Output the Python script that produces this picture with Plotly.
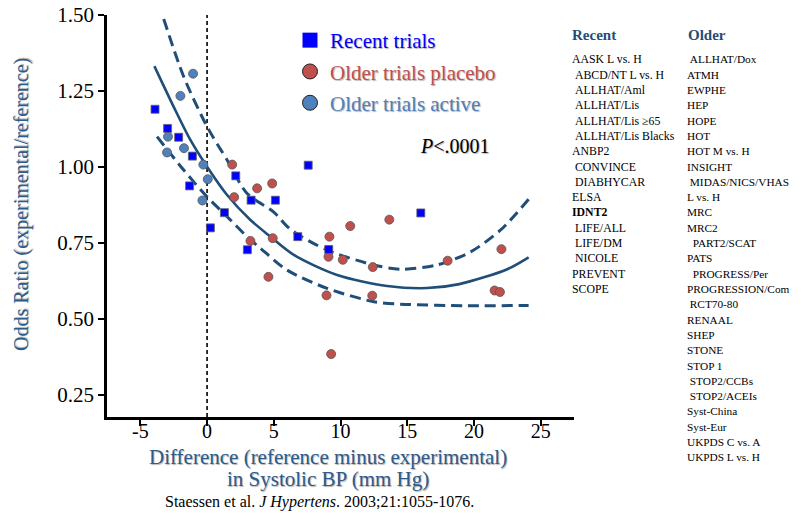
import plotly.graph_objects as go

# ---------------- data ----------------
recent_x = [-3.90, -2.96, -2.13, -1.10, -1.31, 0.25, 2.15, 1.30, 3.30, 5.12, 6.80, 3.02, 7.58, 9.12, 16.02]
recent_y = [1.190, 1.127, 1.098, 1.036, 0.938, 0.800, 0.971, 0.850, 0.891, 0.891, 0.771, 0.728, 1.006, 0.729, 0.849]

placebo_x = [1.88, 3.75, 4.88, 2.03, 3.25, 4.92, 4.60, 9.17, 10.73, 13.66, 9.10, 10.17, 12.42, 8.95, 12.38, 9.30, 18.03, 21.55, 21.95, 22.06]
placebo_y = [1.008, 0.930, 0.946, 0.901, 0.757, 0.766, 0.639, 0.771, 0.806, 0.827, 0.705, 0.695, 0.671, 0.578, 0.577, 0.385, 0.692, 0.594, 0.589, 0.730]

active_x = [-1.05, -2.00, -2.93, -3.00, -1.73, -0.28, 0.05, -0.35]
active_y = [1.307, 1.234, 1.100, 1.048, 1.062, 1.008, 0.960, 0.890]

fit_x = [-3.95, -2.5, -1.25, 0.0, 1.5, 3.25, 4.75, 6.5, 9.75, 13.5, 16.5, 18.9, 22.5, 24.1]
fit_y = [1.332, 1.198, 1.089, 1.001, 0.908, 0.826, 0.771, 0.711, 0.645, 0.609, 0.602, 0.615, 0.664, 0.703]

upper_x = [-3.25, -1.75, 0.0, 1.5, 3.0, 5.0, 6.25, 9.0, 12.5, 14.5, 17.25, 19.75, 22.0, 24.1]
upper_y = [1.487, 1.297, 1.133, 1.023, 0.913, 0.852, 0.795, 0.727, 0.678, 0.664, 0.678, 0.721, 0.793, 0.894]

lower_x = [-3.75, -1.75, 0.0, 1.5, 3.0, 4.0, 6.0, 9.0, 12.5, 14.5, 19.5, 24.1]
lower_y = [1.100, 0.990, 0.902, 0.837, 0.771, 0.733, 0.661, 0.601, 0.557, 0.549, 0.544, 0.545]

x_ticks = [-5, 0, 5, 10, 15, 20, 25]
x_tick_text = ["-5", "0", "5", "10", "15", "20", "25"]
y_ticks = [0.25, 0.50, 0.75, 1.00, 1.25, 1.50]
y_tick_text = ["0.25", "0.50", "0.75", "1.00", "1.25", "1.50"]

legend_names = ["Recent trials", "Older trials placebo", "Older trials active"]

recent_names = ["AASK L vs. H", "\u00a0ABCD/NT L vs. H", "\u00a0ALLHAT/Aml", "\u00a0ALLHAT/Lis",
                "\u00a0ALLHAT/Lis \u226565", "\u00a0ALLHAT/Lis Blacks", "ANBP2", "\u00a0CONVINCE",
                "\u00a0DIABHYCAR", "ELSA", "<b>IDNT2</b>", "\u00a0LIFE/ALL", "\u00a0LIFE/DM",
                "\u00a0NICOLE", "PREVENT", "SCOPE"]
older_names = ["\u00a0ALLHAT/Dox", "ATMH", "EWPHE", "HEP", "HOPE", "HOT", "HOT M vs. H",
               "INSIGHT", "\u00a0MIDAS/NICS/VHAS", "L vs. H", "MRC", "MRC2",
               "\u00a0\u00a0PART2/SCAT", "PATS", "\u00a0\u00a0PROGRESS/Per", "PROGRESSION/Com",
               "\u00a0RCT70-80", "RENAAL", "SHEP", "STONE", "STOP 1",
               "\u00a0STOP2/CCBs", "\u00a0STOP2/ACEIs", "Syst-China", "Syst-Eur",
               "UKPDS C vs. A", "UKPDS L vs. H"]

# ---------------- styles ----------------
SERIF = "Liberation Serif, Times New Roman, serif"
LINE_COL = "#1f4e79"
TITLE_COL = "#2d5b8c"
BLUE = "#0000ff"
RED = "#c0504d"
STEEL = "#4f81bd"
SHADOW = "1px 1px 1px rgba(0,0,0,0.30)"

OFF = 0                      # page body margin removed by the post script
W, H = 801, 531
PLOT_L, PLOT_R, PLOT_T, PLOT_B = 107, 574, 15, 417   # wanted on-screen plot box
PW, PH = PLOT_R - PLOT_L, PLOT_B - PLOT_T
ML, MT = PLOT_L - OFF, PLOT_T - OFF
MR, MB = W - ML - PW, H - MT - PH


def px(xs):
    return (xs - PLOT_L) / PW


def py(ys):
    return (PLOT_B - ys) / PH


fig = go.Figure()

# fitted curve and confidence band
fig.add_trace(go.Scatter(x=upper_x, y=upper_y, mode="lines", showlegend=False,
                         line=dict(color=LINE_COL, width=3, dash="11px,6px", shape="spline", smoothing=0.8)))
fig.add_trace(go.Scatter(x=lower_x, y=lower_y, mode="lines", showlegend=False,
                         line=dict(color=LINE_COL, width=3, dash="11px,6px", shape="spline", smoothing=0.8)))
fig.add_trace(go.Scatter(x=fit_x, y=fit_y, mode="lines", showlegend=False,
                         line=dict(color=LINE_COL, width=2.6, shape="spline", smoothing=0.8)))

# data points
fig.add_trace(go.Scatter(x=active_x, y=active_y, mode="markers", showlegend=False,
                         marker=dict(symbol="circle", size=9, color=STEEL, line=dict(color="#555", width=0.8))))
fig.add_trace(go.Scatter(x=placebo_x, y=placebo_y, mode="markers", showlegend=False,
                         marker=dict(symbol="circle", size=9, color=RED, line=dict(color="#555", width=0.8))))
fig.add_trace(go.Scatter(x=recent_x, y=recent_y, mode="markers", showlegend=False,
                         marker=dict(symbol="square", size=8, color=BLUE, line=dict(color="#666", width=0.8))))

# legend entries (legend-only traces with larger symbols)
leg_cols = [BLUE, RED, STEEL]
leg_syms = ["square", "circle", "circle"]
for name, col, sym in zip(legend_names, leg_cols, leg_syms):
    fig.add_trace(go.Scatter(x=[None], y=[None], mode="markers", legendgroup=name,
                             name=f'<span style="color:{col}">{name}</span>',
                             marker=dict(symbol=sym, size=15, color=col,
                                         line=dict(color="#222", width=1 if sym == "circle" else 0))))

# vertical reference line at x = 0
fig.add_shape(type="line", xref="x", yref="paper", x0=0, x1=0, y0=0, y1=1,
              line=dict(color="black", width=1.6, dash="4px,3px"), layer="below")

ann = []
# axis titles
ann.append(dict(text="Odds Ratio (experimental/reference)", textangle=-90, x=px(22), y=py(205),
                xref="paper", yref="paper", showarrow=False, xanchor="center", yanchor="middle",
                font=dict(family=SERIF, size=20, color=TITLE_COL, shadow=SHADOW)))
ann.append(dict(text="Difference (reference minus experimental)", x=px(328), y=py(457),
                xref="paper", yref="paper", showarrow=False, xanchor="center", yanchor="middle",
                font=dict(family=SERIF, size=21, color=TITLE_COL, shadow=SHADOW)))
ann.append(dict(text="in Systolic BP (mm Hg)", x=px(328), y=py(479),
                xref="paper", yref="paper", showarrow=False, xanchor="center", yanchor="middle",
                font=dict(family=SERIF, size=21, color=TITLE_COL, shadow=SHADOW)))
ann.append(dict(text="Staessen et al. <i>J Hypertens</i>. 2003;21:1055-1076.", x=px(319), y=py(502),
                xref="paper", yref="paper", showarrow=False, xanchor="center", yanchor="middle",
                font=dict(family=SERIF, size=16, color="black")))
ann.append(dict(text="<i>P</i>&lt;.0001", x=px(455), y=py(146),
                xref="paper", yref="paper", showarrow=False, xanchor="center", yanchor="middle",
                font=dict(family=SERIF, size=20, color="black", shadow=SHADOW)))

# right-hand trial lists
ann.append(dict(text="<b>Recent</b>", x=px(570), y=py(35), xref="paper", yref="paper",
                showarrow=False, xanchor="left", yanchor="middle",
                font=dict(family=SERIF, size=15, color=LINE_COL)))
ann.append(dict(text="<b>Older</b>", x=px(686), y=py(35), xref="paper", yref="paper",
                showarrow=False, xanchor="left", yanchor="middle",
                font=dict(family=SERIF, size=15, color=LINE_COL)))
ROW0, ROWH = 59.5, 15.3
for i, nm in enumerate(recent_names):
    ann.append(dict(text=nm, x=px(570), y=py(ROW0 + i * ROWH), xref="paper", yref="paper",
                    showarrow=False, xanchor="left", yanchor="middle",
                    font=dict(family=SERIF, size=11.8, color="black")))
for i, nm in enumerate(older_names):
    ann.append(dict(text=nm, x=px(685), y=py(ROW0 + i * ROWH), xref="paper", yref="paper",
                    showarrow=False, xanchor="left", yanchor="middle",
                    font=dict(family=SERIF, size=11.3, color="black")))

fig.update_layout(
    width=W, height=H,
    margin=dict(l=ML, r=MR, t=MT, b=MB, pad=0, autoexpand=False),
    paper_bgcolor="white", plot_bgcolor="white",
    font=dict(family=SERIF, color="black"),
    showlegend=True,
    legend=dict(x=px(290), y=py(20), xanchor="left", yanchor="top",
                bgcolor="rgba(0,0,0,0)", borderwidth=0, tracegroupgap=1,
                font=dict(family=SERIF, size=21, shadow=SHADOW), itemclick=False),
    annotations=ann,
    xaxis=dict(range=[-7.5, 27.5], tickvals=x_ticks, ticktext=x_tick_text, showgrid=False, zeroline=False,
               automargin=False, showline=True, linecolor="black", linewidth=2.5,
               ticks="outside", ticklen=6, tickwidth=2, tickcolor="black", ticklabelstandoff=-12,
               ticklabeloverflow="allow",
               tickfont=dict(family=SERIF, size=20, color="black")),
    yaxis=dict(range=[0.178, 1.5], tickvals=y_ticks, ticktext=y_tick_text, showgrid=False, zeroline=False,
               automargin=False, showline=True, linecolor="black", linewidth=2.5,
               ticks="outside", ticklen=6, tickwidth=2, tickcolor="black",
               ticklabeloverflow="allow",
               tickfont=dict(family=SERIF, size=21, color="black")),
)

fig.write_html("out.html", config={"displayModeBar": False},
               post_script="document.body.style.margin='0';document.body.style.overflow='hidden';")
